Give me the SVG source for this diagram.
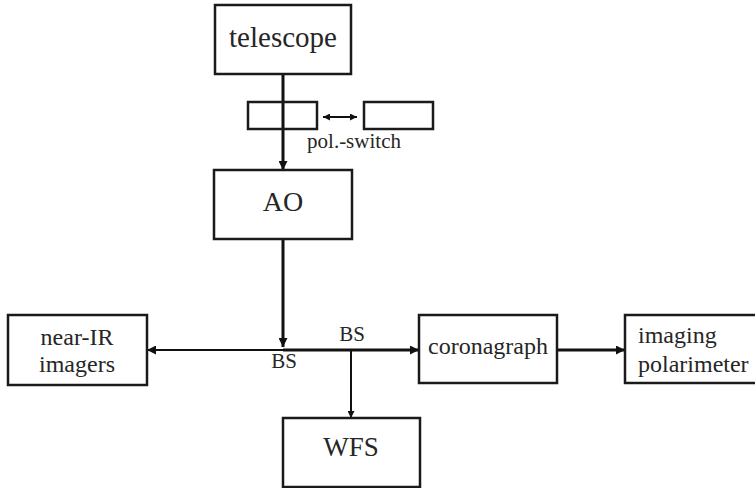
<svg xmlns="http://www.w3.org/2000/svg" width="755" height="488" viewBox="0 0 755 488">
  <style>
    .box { fill: #fff; stroke: #1a1a1a; stroke-width: 2.5; }
    .lbl { font-family: "Liberation Serif", "Times New Roman", serif; fill: #262626; }
    .thick { stroke: #111; stroke-width: 3; fill: none; }
    .thin { stroke: #111; stroke-width: 2; fill: none; }
  </style>
  <defs>
    <marker id="head" viewBox="0 0 10 10" refX="10" refY="5" markerWidth="10" markerHeight="9" markerUnits="userSpaceOnUse" orient="auto-start-reverse">
      <path d="M0,0 L10,5 L0,10 z" fill="#111"/>
    </marker>
    <marker id="headS" viewBox="0 0 10 10" refX="10" refY="5" markerWidth="8" markerHeight="7" markerUnits="userSpaceOnUse" orient="auto-start-reverse">
      <path d="M0,0 L10,5 L0,10 z" fill="#111"/>
    </marker>
  </defs>
  <rect width="755" height="488" fill="#fff"/>

  <g id="connectors">
    <!-- telescope to AO, passing the polarization switch -->
    <line class="thick" x1="283" y1="74" x2="283" y2="170" marker-end="url(#head)"/>
    <!-- pol.-switch toggle -->
    <line class="thin" x1="323" y1="117" x2="357" y2="117" marker-start="url(#headS)" marker-end="url(#headS)"/>
    <!-- AO down to beam splitter -->
    <line class="thick" x1="283" y1="239" x2="283" y2="347" marker-end="url(#head)"/>
    <!-- beam splitter to near-IR imagers -->
    <line class="thin" x1="283" y1="350" x2="147" y2="350" marker-end="url(#head)"/>
    <!-- beam splitter to coronagraph -->
    <line class="thick" x1="283" y1="350" x2="419" y2="350" marker-end="url(#head)"/>
    <!-- second beam splitter to WFS -->
    <line class="thin" x1="351" y1="350" x2="351" y2="418" marker-end="url(#headS)"/>
    <!-- coronagraph to imaging polarimeter -->
    <line class="thick" x1="557" y1="350" x2="625" y2="350" marker-end="url(#head)"/>
  </g>

  <g id="telescope">
    <rect class="box" x="215" y="5" width="136" height="69"/>
    <text class="lbl" x="283" y="47" font-size="29" text-anchor="middle">telescope</text>
  </g>

  <g id="pol-switch">
    <rect class="box" x="248" y="102" width="69" height="27" style="fill:none"/>
    <rect class="box" x="364" y="102" width="69" height="27"/>
    <text class="lbl" x="354" y="148" font-size="21" text-anchor="middle">pol.-switch</text>
  </g>

  <g id="ao">
    <rect class="box" x="214" y="170" width="138" height="69"/>
    <text class="lbl" x="283" y="211" font-size="28" text-anchor="middle">AO</text>
  </g>

  <g id="bs-labels">
    <text class="lbl" x="284" y="368" font-size="21" text-anchor="middle">BS</text>
    <text class="lbl" x="352" y="341" font-size="21" text-anchor="middle">BS</text>
  </g>

  <g id="near-ir">
    <rect class="box" x="8" y="315" width="139" height="70"/>
    <text class="lbl" x="77" y="345" font-size="24" text-anchor="middle">near-IR</text>
    <text class="lbl" x="77" y="372" font-size="24" text-anchor="middle">imagers</text>
  </g>

  <g id="coronagraph">
    <rect class="box" x="419" y="315" width="138" height="68"/>
    <text class="lbl" x="488" y="354" font-size="24" text-anchor="middle">coronagraph</text>
  </g>

  <g id="polarimeter">
    <rect class="box" x="625" y="315" width="140" height="68"/>
    <text class="lbl" x="638" y="343" font-size="24">imaging</text>
    <text class="lbl" x="638" y="372" font-size="24">polarimeter</text>
  </g>

  <g id="wfs">
    <rect class="box" x="283" y="418" width="137" height="69"/>
    <text class="lbl" x="351" y="456" font-size="27" text-anchor="middle">WFS</text>
  </g>
</svg>
